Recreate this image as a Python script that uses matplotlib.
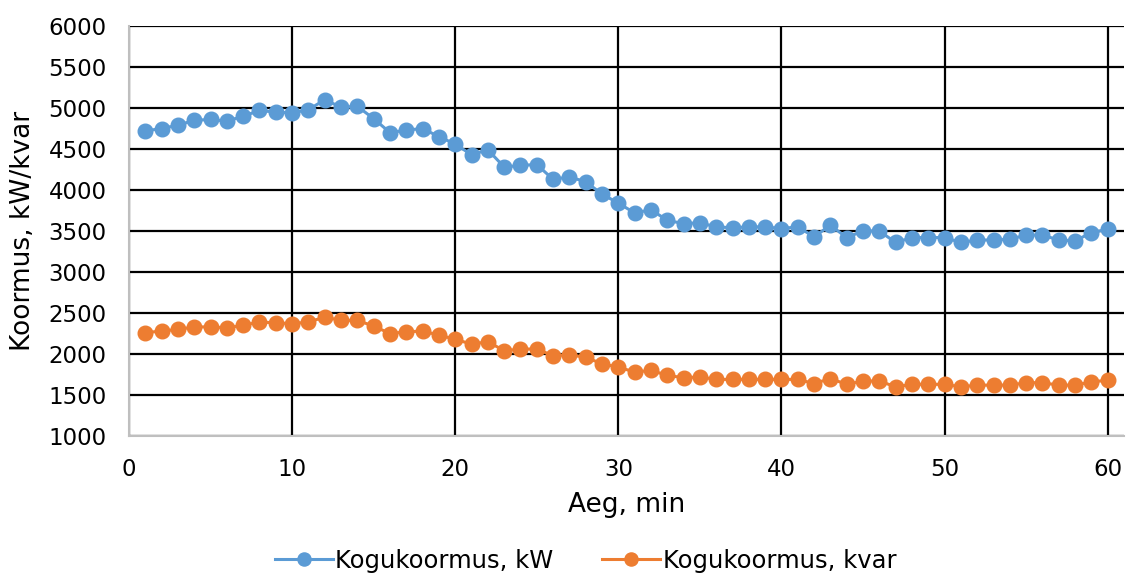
import matplotlib
matplotlib.use("Agg")
import matplotlib.pyplot as plt

minutes = list(range(1, 61))

kw = [4720, 4750, 4790, 4850, 4860, 4840, 4900, 4970, 4950, 4940,
      4980, 5100, 5010, 5020, 4870, 4700, 4730, 4750, 4650, 4560,
      4430, 4490, 4280, 4300, 4310, 4130, 4160, 4100, 3950, 3840,
      3720, 3760, 3630, 3590, 3600, 3550, 3540, 3550, 3550, 3530,
      3550, 3430, 3570, 3420, 3500, 3500, 3360, 3420, 3420, 3420,
      3360, 3390, 3390, 3400, 3450, 3450, 3390, 3380, 3480, 3520]

kvar = [2260, 2280, 2300, 2330, 2330, 2320, 2350, 2390, 2380, 2370,
        2390, 2450, 2410, 2410, 2340, 2250, 2270, 2280, 2230, 2180,
        2120, 2150, 2040, 2060, 2060, 1980, 1990, 1960, 1880, 1840,
        1780, 1800, 1740, 1710, 1720, 1690, 1690, 1690, 1690, 1690,
        1690, 1640, 1700, 1630, 1670, 1670, 1600, 1630, 1630, 1630,
        1600, 1620, 1620, 1620, 1650, 1650, 1620, 1620, 1660, 1680]

series_names = ["Kogukoormus, kW", "Kogukoormus, kvar"]
colors = ["#5B9BD5", "#ED7D31"]

plt.rcParams['font.family'] = ['DejaVu Sans']

fig = plt.figure(figsize=(11.26, 5.74), dpi=100)
ax = fig.add_axes([129 / 1126, 1 - 436 / 574, (1124 - 129) / 1126, (436 - 26) / 574])

for vals, name, c in zip([kw, kvar], series_names, colors):
    ax.plot(minutes, vals, color=c, lw=2.2, marker='o', ms=10.5, label=name, zorder=3)

ax.set_xlim(0, 61)
ax.set_ylim(1000, 6000)
ax.set_xticks(range(0, 61, 10))
ax.set_yticks(range(1000, 6001, 500))
ax.grid(True, color='black', lw=1.6, zorder=1)
ax.set_axisbelow(True)

for s in ['top', 'right']:
    ax.spines[s].set_visible(False)
for s in ['left', 'bottom']:
    ax.spines[s].set_color('#BFBFBF')
    ax.spines[s].set_linewidth(1.5)

ax.tick_params(length=0, labelsize=16.5, colors='#000000')
ax.tick_params(axis='x', pad=16)
ax.tick_params(axis='y', pad=16)
ax.set_xlabel("Aeg, min", fontsize=19, labelpad=8)
ax.set_ylabel("Koormus, kW/kvar", fontsize=19, labelpad=9)

fig.legend(loc='center', bbox_to_anchor=(0.52, 1 - 561 / 574), ncol=2, frameon=False,
           fontsize=17.5, handlelength=2.4, handletextpad=0.1, columnspacing=2.0,
           markerscale=0.9)

fig.savefig("out.png", dpi=100)
